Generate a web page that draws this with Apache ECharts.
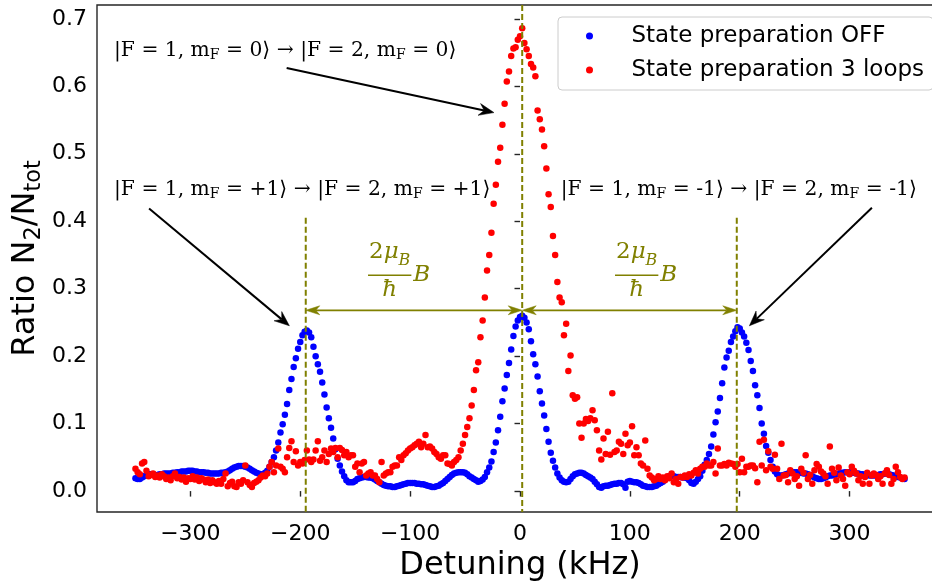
<!DOCTYPE html>
<html><head><meta charset="utf-8">
<script src="https://cdn.jsdelivr.net/npm/echarts@6/dist/echarts.min.js"></script>
<style>html,body{margin:0;padding:0;background:#fff}#c{width:932px;height:585px}</style>
</head><body><div id="c"></div>
<script>
// ---------------- data ----------------
const detuning = [
-350,-348,-346,-344,-342,-340,-338,-336,-334,-332,
-330,-328,-326,-324,-322,-320,-318,-316,-314,-312,
-310,-308,-306,-304,-302,-300,-298,-296,-294,-292,
-290,-288,-286,-284,-282,-280,-278,-276,-274,-272,
-270,-268,-266,-264,-262,-260,-258,-256,-254,-252,
-250,-248,-246,-244,-242,-240,-238,-236,-234,-232,
-230,-228,-226,-224,-222,-220,-218,-216,-214,-212,
-210,-208,-206,-204,-202,-200,-198,-196,-194,-192,
-190,-188,-186,-184,-182,-180,-178,-176,-174,-172,
-170,-168,-166,-164,-162,-160,-158,-156,-154,-152,
-150,-148,-146,-144,-142,-140,-138,-136,-134,-132,
-130,-128,-126,-124,-122,-120,-118,-116,-114,-112,
-110,-108,-106,-104,-102,-100,-98,-96,-94,-92,
-90,-88,-86,-84,-82,-80,-78,-76,-74,-72,
-70,-68,-66,-64,-62,-60,-58,-56,-54,-52,
-50,-48,-46,-44,-42,-40,-38,-36,-34,-32,
-30,-28,-26,-24,-22,-20,-18,-16,-14,-12,
-10,-8,-6,-4,-2,0,2,4,6,8,
10,12,14,16,18,20,22,24,26,28,
30,32,34,36,38,40,42,44,46,48,
50,52,54,56,58,60,62,64,66,68,
70,72,74,76,78,80,82,84,86,88,
90,92,94,96,98,100,102,104,106,108,
110,112,114,116,118,120,122,124,126,128,
130,132,134,136,138,140,142,144,146,148,
150,152,154,156,158,160,162,164,166,168,
170,172,174,176,178,180,182,184,186,188,
190,192,194,196,198,200,202,204,206,208,
210,212,214,216,218,220,222,224,226,228,
230,232,234,236,238,240,242,244,246,248,
250,252,254,256,258,260,262,264,266,268,
270,272,274,276,278,280,282,284,286,288,
290,292,294,296,298,300,302,304,306,308,
310,312,314,316,318,320,322,324,326,328,
330,332,334,336,338,340,342,344,346,348,
350];

const stateOff = [
0.019,0.018,0.018,0.020,0.022,0.024,0.025,0.025,0.025,0.024,
0.024,0.025,0.025,0.026,0.026,0.026,0.026,0.027,0.027,0.028,
0.028,0.029,0.029,0.029,0.030,0.030,0.030,0.029,0.029,0.028,
0.028,0.028,0.027,0.027,0.026,0.026,0.026,0.026,0.026,0.027,
0.027,0.028,0.029,0.031,0.033,0.035,0.036,0.037,0.037,0.037,
0.036,0.035,0.033,0.031,0.029,0.027,0.026,0.025,0.025,0.027,
0.030,0.036,0.043,0.050,0.060,0.072,0.087,0.099,0.113,0.129,
0.150,0.166,0.184,0.197,0.211,0.221,0.231,0.236,0.238,0.235,
0.228,0.214,0.200,0.188,0.177,0.161,0.143,0.124,0.108,0.094,
0.078,0.062,0.048,0.038,0.029,0.022,0.016,0.013,0.013,0.013,
0.015,0.018,0.019,0.020,0.021,0.021,0.020,0.020,0.019,0.017,
0.015,0.013,0.011,0.009,0.008,0.007,0.007,0.006,0.006,0.007,
0.008,0.009,0.010,0.011,0.012,0.012,0.012,0.012,0.011,0.011,
0.010,0.010,0.009,0.008,0.007,0.006,0.006,0.007,0.008,0.010,
0.012,0.015,0.018,0.021,0.024,0.026,0.027,0.028,0.028,0.028,
0.027,0.025,0.022,0.020,0.018,0.016,0.014,0.015,0.017,0.021,
0.028,0.035,0.044,0.058,0.072,0.090,0.110,0.133,0.152,0.172,
0.190,0.210,0.230,0.244,0.253,0.258,0.260,0.257,0.250,0.240,
0.222,0.203,0.188,0.170,0.148,0.130,0.112,0.092,0.073,0.057,
0.045,0.035,0.026,0.020,0.016,0.014,0.013,0.014,0.018,0.022,
0.025,0.026,0.027,0.027,0.026,0.024,0.022,0.020,0.018,0.014,
0.010,0.006,0.005,0.007,0.008,0.008,0.009,0.010,0.011,0.011,
0.012,0.012,0.010,0.005,0.014,0.015,0.014,0.013,0.013,0.012,
0.010,0.008,0.007,0.006,0.006,0.006,0.007,0.008,0.010,0.012,
0.014,0.017,0.020,0.022,0.023,0.022,0.021,0.021,0.021,0.020,
0.020,0.019,0.016,0.012,0.011,0.014,0.018,0.022,0.030,0.039,
0.046,0.055,0.066,0.084,0.102,0.118,0.138,0.160,0.183,0.198,
0.208,0.221,0.229,0.237,0.243,0.241,0.235,0.229,0.220,0.209,
0.193,0.178,0.157,0.142,0.123,0.100,0.085,0.067,0.057,0.046,
0.036,0.029,0.025,0.023,0.023,0.024,0.025,0.026,0.027,0.028,
0.028,0.028,0.027,0.027,0.026,0.026,0.025,0.024,0.022,0.020,
0.019,0.018,0.018,0.019,0.020,0.022,0.023,0.023,0.024,0.025,
0.026,0.027,0.027,0.028,0.028,0.028,0.027,0.027,0.026,0.026,
0.025,0.025,0.024,0.024,0.023,0.023,0.023,0.023,0.024,0.025,
0.025,0.026,0.026,0.025,0.024,0.023,0.022,0.021,0.020,0.019,
0.018];

const state3Loops = [
0.033,0.028,0.025,0.041,0.043,0.030,0.022,0.024,0.026,0.021,
0.023,0.020,0.025,0.022,0.018,0.020,0.016,0.022,0.026,0.019,
0.021,0.017,0.020,0.014,0.019,0.018,0.022,0.017,0.020,0.015,
0.019,0.017,0.013,0.017,0.012,0.016,0.013,0.011,0.015,0.011,
0.018,0.026,0.007,0.012,0.014,0.007,0.006,0.013,0.011,0.016,
0.038,0.013,0.009,0.006,0.012,0.014,0.016,0.020,0.023,0.022,
0.026,0.036,0.043,0.028,0.038,0.063,0.036,0.033,0.028,0.050,
0.064,0.074,0.043,0.059,0.038,0.043,0.041,0.046,0.060,0.047,
0.043,0.047,0.060,0.074,0.045,0.050,0.060,0.043,0.055,0.063,
0.058,0.064,0.050,0.064,0.061,0.053,0.058,0.050,0.053,0.053,
0.036,0.041,0.028,0.041,0.043,0.023,0.026,0.028,0.023,0.023,
0.018,0.013,0.043,0.023,0.026,0.028,0.028,0.036,0.038,0.038,
0.050,0.046,0.053,0.056,0.060,0.063,0.065,0.068,0.070,0.073,
0.065,0.070,0.083,0.065,0.066,0.063,0.058,0.055,0.050,0.048,
0.053,0.053,0.041,0.040,0.038,0.043,0.046,0.050,0.060,0.070,
0.083,0.095,0.108,0.127,0.150,0.179,0.191,0.228,0.253,0.287,
0.327,0.350,0.383,0.426,0.454,0.488,0.509,0.543,0.574,0.607,
0.622,0.645,0.656,0.658,0.669,0.674,0.686,0.664,0.655,0.645,
0.633,0.628,0.615,0.564,0.551,0.536,0.511,0.478,0.440,0.421,
0.378,0.350,0.310,0.287,0.280,0.231,0.248,0.178,0.201,0.142,
0.137,0.139,0.100,0.079,0.100,0.107,0.104,0.108,0.120,0.105,
0.090,0.060,0.047,0.078,0.055,0.088,0.054,0.145,0.058,0.060,
0.073,0.070,0.055,0.085,0.068,0.072,0.096,0.053,0.065,0.053,
0.041,0.038,0.075,0.033,0.023,0.020,0.016,0.018,0.022,0.018,
0.020,0.016,0.022,0.019,0.026,0.013,0.018,0.011,0.021,0.020,
0.023,0.021,0.025,0.023,0.027,0.031,0.026,0.033,0.036,0.036,
0.041,0.038,0.038,0.043,0.026,0.063,0.038,0.038,0.040,0.038,
0.042,0.041,0.040,0.036,0.040,0.028,0.048,0.028,0.036,0.036,
0.038,0.038,0.034,0.013,0.073,0.038,0.076,0.031,0.059,0.036,
0.033,0.054,0.033,0.018,0.070,0.023,0.024,0.013,0.031,0.026,
0.018,0.022,0.008,0.033,0.027,0.053,0.018,0.024,0.011,0.031,
0.040,0.036,0.029,0.026,0.022,0.011,0.066,0.033,0.027,0.016,
0.035,0.023,0.018,0.008,0.028,0.025,0.036,0.030,0.026,0.016,
0.022,0.011,0.021,0.027,0.011,0.023,0.026,0.024,0.018,0.022,
0.011,0.026,0.031,0.024,0.011,0.018,0.036,0.028,0.021,0.018,
0.020];

const seriesNames = ['State preparation OFF', 'State preparation 3 loops'];
const xTicks = [-300, -200, -100, 0, 100, 200, 300];
const yTicks = [0, 0.1, 0.2, 0.3, 0.4, 0.5, 0.6, 0.7];

// annotation anchors (data coordinates)
const resonanceLines = [[-195, 0.405], [2, 0.7205], [197.3, 0.405]];
const spacingArrows = [[-195, 2], [2, 197.3]];
const spacingArrowY = 0.268;
const spacingLabelAnchors = [[-118.6, 0.320], [106.2, 0.320]];
const pointerArrows = [
  [[-337.6, 0.419], [-209.9, 0.245]],
  [[-212.4, 0.627], [-23.7, 0.561]],
  [[320.3, 0.420], [208.8, 0.245]]
];
const transitionLabels = [
  {at: [-369.5, 0.643], parts: [['|F = 1, m', 0], ['F', 1], [' = 0\u27E9 \u2192 |F = 2, m', 0], ['F', 1], [' = 0\u27E9', 0]]},
  {at: [-369.5, 0.437], parts: [['|F = 1, m', 0], ['F', 1], [' = +1\u27E9 \u2192 |F = 2, m', 0], ['F', 1], [' = +1\u27E9', 0]]},
  {at: [37.1, 0.437], parts: [['|F = 1, m', 0], ['F', 1], [' = -1\u27E9 \u2192 |F = 2, m', 0], ['F', 1], [' = -1\u27E9', 0]]}
];

// ---------------- chart ----------------
const OLIVE = '#808000';
const AXC = '#262626';
const chart = echarts.init(document.getElementById('c'), null, {renderer: 'canvas'});

const option = {
  animation: false,
  backgroundColor: '#ffffff',
  textStyle: {fontFamily: '"DejaVu Sans"'},
  grid: {left: 97, top: 5, width: 846, height: 507, show: true, borderColor: AXC, borderWidth: 1.4,
    backgroundColor: 'transparent', containLabel: false, outerBoundsMode: 'none'},
  xAxis: {
    type: 'value', min: -385, max: 385,
    name: 'Detuning (kHz)', nameLocation: 'middle', nameGap: 37,
    nameTextStyle: {fontSize: 32, color: '#000', fontFamily: '"DejaVu Sans"'},
    axisLine: {show: false}, splitLine: {show: false},
    axisTick: {show: true, length: 5.5, customValues: xTicks, lineStyle: {color: AXC, width: 1.4}},
    axisLabel: {customValues: xTicks, fontSize: 22, color: '#000', margin: 11,
      formatter: v => (v < 0 ? '\u2212' + Math.abs(v) : String(v))}
  },
  yAxis: {
    type: 'value', min: -0.031, max: 0.7205,
    axisLine: {show: false}, splitLine: {show: false},
    axisTick: {show: true, length: 5.5, customValues: yTicks, lineStyle: {color: AXC, width: 1.4}},
    axisLabel: {customValues: yTicks, fontSize: 22, color: '#000', margin: 10,
      formatter: v => Number(v).toFixed(1)}
  },
  legend: {
    orient: 'vertical', left: 558, top: 17,
    padding: [6, 9, 7, 28], itemGap: 8, itemWidth: 20, itemHeight: 7, icon: 'circle',
    borderColor: '#cccccc', borderWidth: 1, borderRadius: 4, backgroundColor: 'rgba(255,255,255,0.8)',
    textStyle: {fontSize: 23, color: '#000', lineHeight: 26, padding: [0, 0, 0, 27]},
    selectedMode: false, data: seriesNames
  },
  series: [
    {name: seriesNames[0], type: 'scatter', symbol: 'circle', symbolSize: 6.5,
     itemStyle: {color: '#0000ff', opacity: 1}, emphasis: {disabled: true},
     data: detuning.map((x, i) => [x, stateOff[i]]), z: 2},
    {name: seriesNames[1], type: 'scatter', symbol: 'circle', symbolSize: 6.5,
     itemStyle: {color: '#ff0000', opacity: 1}, emphasis: {disabled: true},
     data: detuning.map((x, i) => [x, state3Loops[i]]), z: 3}
  ]
};
chart.setOption(option);

// ---------------- annotations ----------------
const mctx = document.createElement('canvas').getContext('2d');
function fm(font) { mctx.font = font; const m = mctx.measureText('Hg'); return {a: m.fontBoundingBoxAscent, d: m.fontBoundingBoxDescent}; }
function tw(t, font) { mctx.font = font; return mctx.measureText(t).width; }
function textEl(t, x, baseline, font, color, z) {
  const m = fm(font);
  return {type: 'text', x: x, y: baseline - (m.a - m.d) / 2, z: z, silent: true,
    style: {text: t, font: font, fill: color, align: 'left', verticalAlign: 'middle', textAlign: 'left', textVerticalAlign: 'middle'}};
}
function richRow(x0, baseline, parts, color, z) {
  const els = []; let x = x0;
  for (const p of parts) {
    els.push(textEl(p[0], x, baseline + (p[2] || 0), p[1], color, z));
    x += tw(p[0], p[1]);
  }
  return {els, w: x - x0};
}
function px(p) { return chart.convertToPixel({gridIndex: 0}, p); }
function head(tip, from, L, W, notch, color, z) {
  const dx = tip[0] - from[0], dy = tip[1] - from[1]; const len = Math.hypot(dx, dy);
  const ux = dx / len, uy = dy / len, nx = -uy, ny = ux;
  const bx = tip[0] - ux * L, by = tip[1] - uy * L;
  return {type: 'polygon', z: z, silent: true, shape: {points: [
    [tip[0], tip[1]], [bx + nx * W, by + ny * W], [tip[0] - ux * (L - notch), tip[1] - uy * (L - notch)], [bx - nx * W, by - ny * W]]},
    style: {fill: color, stroke: color, lineWidth: 0.5}};
}
function arrowLine(a, b, color, lw, L, W, notch, both, z) {
  const els = [];
  const dx = b[0] - a[0], dy = b[1] - a[1]; const len = Math.hypot(dx, dy); const ux = dx / len, uy = dy / len;
  const s = both ? [a[0] + ux * (L - notch), a[1] + uy * (L - notch)] : a;
  const e = [b[0] - ux * (L - notch), b[1] - uy * (L - notch)];
  els.push({type: 'line', z: z, silent: true, shape: {x1: s[0], y1: s[1], x2: e[0], y2: e[1]}, style: {stroke: color, lineWidth: lw}});
  els.push(head(b, a, L, W, notch, color, z));
  if (both) els.push(head(a, b, L, W, notch, color, z));
  return els;
}

const g = [];
const yMinPx = px([0, -0.031])[1];
// resonance dashed lines
for (const r of resonanceLines) {
  const top = px([r[0], r[1]]);
  g.push({type: 'line', z: 10, silent: true, shape: {x1: top[0], y1: top[1], x2: top[0], y2: yMinPx},
    style: {stroke: OLIVE, lineWidth: 2, lineDash: [6, 3]}});
}
// spacing double arrows
for (const s of spacingArrows) {
  const a = px([s[0], spacingArrowY]), b = px([s[1], spacingArrowY]);
  g.push(...arrowLine(a, b, OLIVE, 1.8, 14, 4.5, 4, true, 11));
}
// spacing labels 2μB/ħ B
const FR = 23, FRS = 16;
const fUp = FR + 'px "DejaVu Serif"', fIt = 'italic ' + FR + 'px "DejaVu Serif"', fSub = 'italic ' + FRS + 'px "DejaVu Serif"';
for (const an of spacingLabelAnchors) {
  const c = px(an);
  const numParts = [['2', fUp], ['\u03BC', fIt], ['B', fSub, 6]];
  let nw = 0; for (const p of numParts) nw += tw(p[0], p[1]);
  const barW = nw + 2;
  const num = richRow(c[0] - nw / 2, c[1] - 15, numParts, OLIVE, 12);
  g.push(...num.els);
  g.push({type: 'line', z: 12, silent: true, shape: {x1: c[0] - barW / 2, y1: c[1], x2: c[0] + barW / 2, y2: c[1]}, style: {stroke: OLIVE, lineWidth: 1.6}});
  const hw = tw('\u0127', fIt);
  g.push(textEl('\u0127', c[0] - hw / 2, c[1] + 23, fIt, OLIVE, 12));
  g.push(textEl('B', c[0] + barW / 2 + 2, c[1] + 8, fIt, OLIVE, 12));
}
// pointer arrows
for (const pa of pointerArrows) {
  g.push(...arrowLine(px(pa[0]), px(pa[1]), '#000', 2, 15, 6, 5, false, 13));
}
// transition labels
const TF = 20.3, TS = 14;
const tMain = TF + 'px "DejaVu Serif"', tSub = TS + 'px "DejaVu Serif"';
for (const tl of transitionLabels) {
  const p = px(tl.at);
  const parts = tl.parts.map(q => q[1] ? [q[0], tSub, 3] : [q[0], tMain, 0]);
  g.push(...richRow(p[0], p[1], parts, '#000', 14).els);
}
// y axis title: Ratio N2/Ntot (rotated)
const YF = 32, YS = 22.4;
const yMain = YF + 'px "DejaVu Sans"', ySub = YS + 'px "DejaVu Sans"';
const yParts = [['Ratio N', yMain, 0], ['2', ySub, 5], ['/N', yMain, 0], ['tot', ySub, 5]];
const yRow = richRow(0, 0, yParts, '#000', 15);
const plotMidY = (px([0, 0.7205])[1] + yMinPx) / 2;
g.push({type: 'group', x: 37, y: plotMidY + yRow.w / 2, rotation: Math.PI / 2, children: yRow.els});

chart.setOption({graphic: {elements: g}});
</script>
</body></html>
